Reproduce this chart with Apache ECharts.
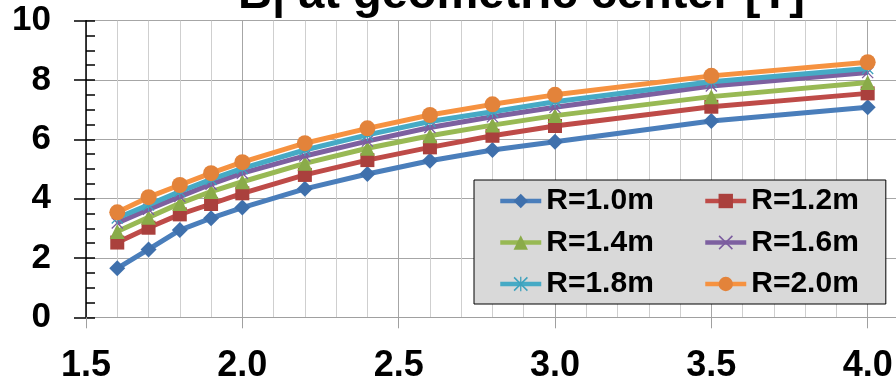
<!DOCTYPE html>
<html>
<head>
<meta charset="utf-8">
<title>B at geometric center</title>
<script src="https://cdn.jsdelivr.net/npm/echarts@6/dist/echarts.min.js"></script>
<style>
  html, body { margin: 0; padding: 0; background: #fff; }
  #chart-main { width: 896px; height: 384px; }
</style>
</head>
<body>
<div id="chart-main"></div>
<script>
// coil length values on x axis
const xValues = [1.6, 1.7, 1.8, 1.9, 2.0, 2.2, 2.4, 2.6, 2.8, 3.0, 3.5, 4.0];

const seriesNames = ["R=1.0m", "R=1.2m", "R=1.4m", "R=1.6m", "R=1.8m", "R=2.0m"];

const r10 = [1.65, 2.29, 2.94, 3.34, 3.70, 4.33, 4.83, 5.28, 5.64, 5.92, 6.62, 7.08];
const r12 = [2.52, 3.02, 3.47, 3.82, 4.18, 4.80, 5.30, 5.73, 6.12, 6.45, 7.10, 7.55];
const r14 = [2.89, 3.37, 3.84, 4.24, 4.57, 5.19, 5.70, 6.12, 6.48, 6.80, 7.44, 7.92];
const r16 = [3.18, 3.64, 4.07, 4.49, 4.86, 5.44, 5.94, 6.40, 6.76, 7.08, 7.80, 8.25];
const r18 = [3.35, 3.79, 4.24, 4.65, 5.02, 5.64, 6.15, 6.60, 6.93, 7.27, 7.94, 8.39];
const r20 = [3.54, 4.05, 4.46, 4.86, 5.23, 5.87, 6.37, 6.82, 7.18, 7.50, 8.14, 8.60];

const allValues = [r10, r12, r14, r16, r18, r20];

// excel-ish marker shapes
const xMark = "path://M0,1.5L1.5,0L20,18.5L18.5,20Z M18.5,0L20,1.5L1.5,20L0,18.5Z";
const starMark = xMark + " M9.1,0L10.9,0L10.9,20L9.1,20Z";

const looks = [
  { line: "#4a7ebb", mark: "#3f70ac", symbol: "diamond", size: 16 },
  { line: "#be4b48", mark: "#aa403d", symbol: "rect", size: 14 },
  { line: "#98b954", mark: "#8aab49", symbol: "triangle", size: 15 },
  { line: "#7d60a0", mark: "#7b5c9f", symbol: xMark, size: 12 },
  { line: "#46aac5", mark: "#3ea2bd", symbol: starMark, size: 12 },
  { line: "#f69240", mark: "#e3833a", symbol: "circle", size: 16 },
];

const font = "'Liberation Sans', Arial, sans-serif";

let series = seriesNames.map((name, i) => {
  return {
    name: name,
    type: "line",
    data: xValues.map((x, k) => [x, allValues[i][k]]),
    symbol: looks[i].symbol,
    symbolSize: looks[i].size,
    showAllSymbol: true,
    lineStyle: { color: looks[i].line, width: 5 },
    itemStyle: { color: looks[i].mark },
    emphasis: { disabled: true },
    z: 3 + i,
  };
});

let legendText = {
  fontFamily: font,
  fontWeight: "bold",
  fontSize: 30,
  lineHeight: 30,
  color: "#000",
};

let option = {
  animation: false,
  title: {
    text: "B| at geometric center [T]",
    left: 238,
    top: -28,
    padding: 0,
    textStyle: { fontFamily: font, fontWeight: "bold", fontSize: 47, color: "#000" },
  },
  // x axis runs on past the right edge, the picture is cropped there
  grid: { left: 86, top: 20.7, right: -128, bottom: 66.7, outerBoundsMode: "none" },
  legend: [
    {
      // left column, also carries the grey box
      data: ["R=1.0m", "R=1.4m", "R=1.8m"],
      orient: "vertical",
      left: 474,
      top: 180,
      padding: [6, 232, 5, 24],
      itemGap: 11.5,
      itemWidth: 41,
      itemHeight: 18,
      lineStyle: { width: 4.5 },
      backgroundColor: "#d9d9d9",
      borderColor: "#000",
      borderWidth: 1,
      textStyle: legendText,
      z: 10,
    },
    {
      data: ["R=1.2m", "R=1.6m", "R=2.0m"],
      orient: "vertical",
      left: 703,
      top: 186,
      padding: 0,
      itemGap: 11.5,
      itemWidth: 41,
      itemHeight: 18,
      lineStyle: { width: 4.5 },
      textStyle: legendText,
      z: 11,
    },
  ],
  xAxis: {
    type: "value",
    min: 1.5,
    max: 4.5,
    interval: 0.5,
    axisLine: { show: true, lineStyle: { color: "#a0a0a0", width: 1 } },
    axisTick: { show: true, length: 11, lineStyle: { color: "#a0a0a0" } },
    axisLabel: {
      margin: 31,
      formatter: (v) => v.toFixed(1),
      fontFamily: font,
      fontWeight: "bold",
      fontSize: 36,
      color: "#000",
    },
    splitLine: { show: true, lineStyle: { color: "#a6a6a6", width: 1 } },
    minorTick: { show: false, splitNumber: 5 },
    minorSplitLine: { show: true, lineStyle: { color: "#cfcfcf", width: 1 } },
  },
  yAxis: [
    {
      type: "value",
      min: 0,
      max: 10,
      interval: 2,
      axisLine: { show: true, lineStyle: { color: "#000", width: 1.5 } },
      axisTick: { show: true, length: 12, lineStyle: { color: "#000", width: 1.5 } },
      axisLabel: {
        margin: 35,
        fontFamily: font,
        fontWeight: "bold",
        fontSize: 35,
        color: "#000",
      },
      splitLine: { show: true, lineStyle: { color: "#a6a6a6", width: 1 } },
    },
    {
      // minor ticks pointing inward
      type: "value",
      position: "left",
      min: 0,
      max: 10,
      interval: 0.5,
      axisLine: { show: false },
      axisTick: { show: true, inside: true, length: 9, lineStyle: { color: "#000", width: 1.5 } },
      axisLabel: { show: false },
      splitLine: { show: false },
    },
  ],
  series: series,
};

let chartMy = echarts.init(document.getElementById("chart-main"));
chartMy.setOption(option);
</script>
</body>
</html>
